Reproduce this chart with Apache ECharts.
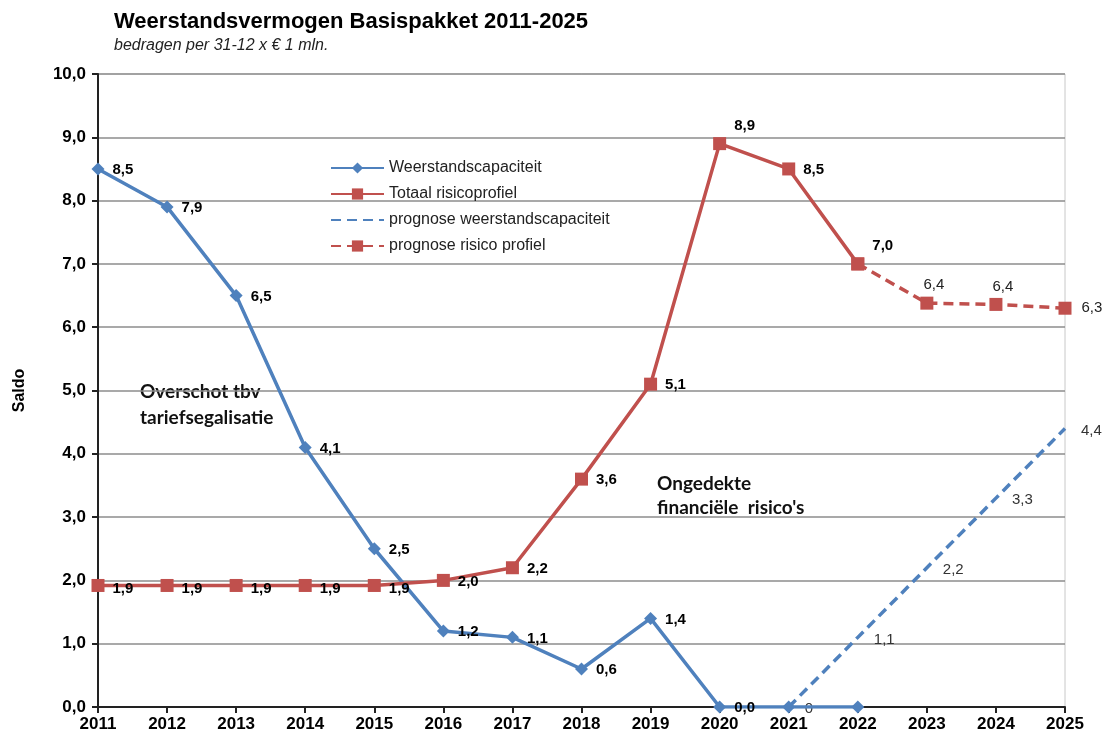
<!DOCTYPE html>
<html>
<head>
<meta charset="utf-8">
<script src="https://cdn.jsdelivr.net/npm/echarts@6/dist/echarts.min.js"></script>
<style>
  html, body { margin: 0; padding: 0; background: #fff; }
  #chart { width: 1110px; height: 740px; }
</style>
</head>
<body>
<div id="chart"></div>
<script>
const years = ['2011', '2012', '2013', '2014', '2015', '2016', '2017', '2018',
  '2019', '2020', '2021', '2022', '2023', '2024', '2025']

// gerealiseerd / begroot
const weerstand = [8.5, 7.9, 6.5, 4.1, 2.5, 1.2, 1.1, 0.6, 1.4, 0.0, 0.0, 0.0, null, null, null]
const risico = [1.92, 1.92, 1.92, 1.92, 1.92, 2.0, 2.2, 3.6, 5.1, 8.9, 8.5, 7.0, null, null, null]
// prognoses
const progWeerstand = [null, null, null, null, null, null, null, null, null, null, 0, 1.1, 2.2, 3.3, 4.4]
const progRisico = [null, null, null, null, null, null, null, null, null, null, null, 7.0, 6.38, 6.36, 6.3]

const BLUE = '#4f81bd'
const RED = '#c0504d'
const FONT = 'Liberation Sans, Arial, sans-serif'

const comma = v => v.toFixed(1).replace('.', ',')

const chart = echarts.init(document.getElementById('chart'))

// label per punt instellen (rechts van het punt, soms iets hoger)
const withLabels = (arr, opts) => arr.map((v, i) => {
  if (v === null) return null
  const o = opts(i, v)
  if (!o) return { value: v, label: { show: false } }
  return { value: v, label: o }
})

const option = {
  animation: false,
  title: {
    text: 'Weerstandsvermogen Basispakket 2011-2025',
    subtext: 'bedragen per 31-12 x € 1 mln.',
    left: 109,
    top: 6,
    itemGap: 5,
    textStyle: { fontFamily: FONT, fontSize: 22, fontWeight: 'bold', color: '#000' },
    subtextStyle: { fontFamily: FONT, fontSize: 16, fontStyle: 'italic', color: '#222' }
  },
  legend: {
    orient: 'vertical',
    left: 325,
    top: 155,
    itemWidth: 53,
    itemHeight: 14,
    itemGap: 10,
    textStyle: { fontFamily: FONT, fontSize: 16, color: '#222' },
    data: [
      'Weerstandscapaciteit',
      'Totaal risicoprofiel',
      { name: 'prognose weerstandscapaciteit', itemStyle: { opacity: 0 } },
      'prognose risico profiel'
    ]
  },
  grid: {
    left: 98,
    right: 45,
    top: 74,
    bottom: 33,
    show: true,
    borderColor: '#c8c8c8',
    borderWidth: 1
  },
  xAxis: {
    type: 'category',
    data: years,
    boundaryGap: false,
    axisLine: { lineStyle: { color: '#222', width: 2 } },
    axisTick: { alignWithLabel: true, length: 6, lineStyle: { color: '#222', width: 2 } },
    axisLabel: { fontFamily: FONT, fontSize: 17, fontWeight: 'bold', color: '#000', margin: 9 },
    splitLine: { show: false }
  },
  yAxis: {
    type: 'value',
    min: 0,
    max: 10,
    interval: 1,
    name: 'Saldo',
    nameLocation: 'middle',
    nameRotate: 90,
    nameGap: 70,
    nameTextStyle: { fontFamily: FONT, fontSize: 16, fontWeight: 'bold', color: '#000' },
    axisLine: { show: true, lineStyle: { color: '#222', width: 2 } },
    axisTick: { show: true, length: 6, lineStyle: { color: '#222', width: 2 } },
    axisLabel: {
      fontFamily: FONT, fontSize: 17, fontWeight: 'bold', color: '#000', margin: 12,
      formatter: v => comma(v)
    },
    splitLine: { lineStyle: { color: '#8c8c8c', width: 1.5 } }
  },
  series: [
    {
      name: 'Weerstandscapaciteit',
      type: 'line',
      data: withLabels(weerstand, (i, v) => {
        if (i > 9) return null
        return { show: true, position: 'right', distance: 8, offset: [0, 1] }
      }),
      symbol: 'diamond',
      symbolSize: 13,
      lineStyle: { color: BLUE, width: 3.5 },
      itemStyle: { color: BLUE },
      label: {
        show: true,
        fontFamily: FONT, fontSize: 15, fontWeight: 'bold', color: '#000',
        formatter: p => comma(p.value)
      },
      z: 3
    },
    {
      name: 'Totaal risicoprofiel',
      type: 'line',
      data: withLabels(risico, (i, v) => {
        if (i === 9 || i === 11) return { show: true, position: 'right', distance: 8, offset: [0, -18] }
        if (i < 5) return { show: true, position: 'right', distance: 8, offset: [0, 3] }
        return { show: true, position: 'right', distance: 8, offset: [0, 1] }
      }),
      symbol: 'rect',
      symbolSize: 13,
      lineStyle: { color: RED, width: 3.5 },
      itemStyle: { color: RED },
      label: {
        show: true,
        fontFamily: FONT, fontSize: 15, fontWeight: 'bold', color: '#000',
        formatter: p => comma(p.value)
      },
      z: 4
    },
    {
      name: 'prognose weerstandscapaciteit',
      type: 'line',
      data: progWeerstand,
      symbol: 'circle',
      symbolSize: 0,
      lineStyle: { color: BLUE, width: 3.5, type: [10, 6] },
      itemStyle: { color: BLUE },
      label: {
        show: true,
        position: 'right',
        distance: 16,
        offset: [0, 2],
        fontFamily: FONT, fontSize: 15, color: '#333',
        formatter: p => (p.value === 0 ? '0' : comma(p.value))
      },
      z: 2
    },
    {
      name: 'prognose risico profiel',
      type: 'line',
      data: withLabels(progRisico, (i, v) => {
        if (i === 11) return null
        if (i === 14) return { show: true, position: 'right', distance: 10 }
        return { show: true, position: 'top', distance: 6, offset: [7, 2] }
      }),
      symbol: 'rect',
      symbolSize: 13,
      lineStyle: { color: RED, width: 3.5, type: [10, 6] },
      itemStyle: { color: RED },
      label: {
        show: true,
        fontFamily: FONT, fontSize: 15, color: '#222',
        formatter: p => comma(p.value)
      },
      z: 3
    }
  ],
  graphic: [
    {
      type: 'text',
      left: 140,
      top: 379,
      style: {
        text: 'Overschot tbv\ntariefsegalisatie',
        fontFamily: 'Lato, sans-serif',
        fontSize: 19,
        fontWeight: 'bold',
        lineHeight: 26,
        fill: '#111'
      }
    },
    {
      type: 'text',
      left: 657,
      top: 472,
      style: {
        text: 'Ongedekte\nfinanciële  risico\'s',
        fontFamily: 'Lato, sans-serif',
        fontSize: 19,
        fontWeight: 'bold',
        lineHeight: 24,
        fill: '#111'
      }
    }
  ]
}

chart.setOption(option)
</script>
</body>
</html>
